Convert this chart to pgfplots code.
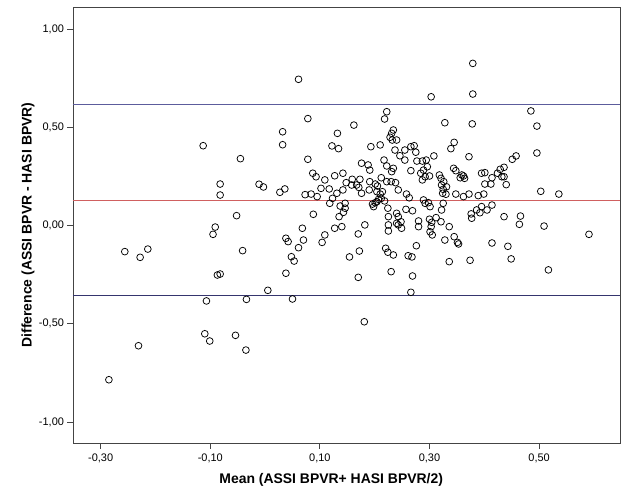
\documentclass[border=0pt]{standalone}
\usepackage{pgfplots}
\pgfplotsset{compat=1.18}
\usepackage{fontspec}
\setmainfont{Liberation Sans}
\definecolor{upblue}{HTML}{5C5C9C}
\definecolor{loblue}{HTML}{35356E}
\definecolor{meanred}{HTML}{D06060}
\definecolor{framegray}{HTML}{444444}
\begin{document}
\begin{tikzpicture}
\path[use as bounding box] (-73bp,-61bp) rectangle (556bp,443bp);
\begin{axis}[
  at={(0,0)}, anchor=south west,
  scale only axis, width=547bp, height=436bp,
  xmin=-0.3505, xmax=0.6476, ymin=-1.107, ymax=1.112,
  axis line style={framegray, line width=0.8pt},
  xtick={-0.3,-0.1,0.1,0.3,0.5},
  ytick={-1,-0.5,0,0.5,1},
  tick align=outside, tick pos=left,
  major tick length=5.5bp,
  tick style={framegray, line width=0.8pt},
  /pgf/number format/assume math mode=true,
  /pgf/number format/.cd, fixed, fixed zerofill, precision=2, use comma,
  /pgfplots/.cd,
  ticklabel style={font=\fontsize{11}{13}\selectfont},
  xticklabel style={yshift=-1.5bp},
  every axis x label/.style={at={(axis description cs:0.472,0)}, yshift=-37bp, anchor=center},
  every axis y label/.style={at={(axis description cs:0,0.5)}, xshift=-45bp, rotate=90, anchor=center},
  label style={font=\bfseries\fontsize{14}{16}\selectfont},
  xlabel={Mean (ASSI BPVR+ HASI BPVR/2)},
  ylabel={Difference (ASSI BPVR - HASI BPVR)},
]
\addplot[upblue, line width=0.8pt, forget plot] coordinates {(-0.3505,0.617) (0.6476,0.617)};
\addplot[meanred, line width=0.8pt, forget plot] coordinates {(-0.3505,0.128) (0.6476,0.128)};
\addplot[loblue, line width=0.8pt, forget plot] coordinates {(-0.3505,-0.357) (0.6476,-0.357)};
\addplot[only marks, mark=o, mark size=3.4pt, mark options={black, line width=0.75pt}] table {
x y
-0.113 0.406
-0.256 -0.133
-0.228 -0.162
-0.214 -0.120
-0.107 -0.384
-0.110 -0.551
-0.101 -0.588
-0.231 -0.612
-0.285 -0.785
-0.091 -0.008
-0.095 -0.045
-0.087 -0.252
-0.082 -0.247
-0.082 0.211
-0.082 0.155
-0.052 0.050
-0.045 0.340
-0.041 -0.128
-0.054 -0.559
-0.035 -0.634
-0.034 -0.376
0.061 0.744
0.078 0.544
0.032 0.477
0.032 0.411
0.132 0.469
0.122 0.405
0.134 0.391
0.078 0.337
0.087 0.266
0.093 0.248
0.109 0.232
0.127 0.253
0.142 0.266
-0.011 0.210
-0.003 0.196
0.027 0.169
0.036 0.186
0.073 0.157
0.084 0.160
0.095 0.147
0.102 0.189
0.117 0.186
0.131 0.164
0.142 0.181
0.148 0.218
0.118 0.113
0.123 0.138
0.137 0.099
0.146 0.088
0.135 0.045
0.143 0.067
0.088 0.057
0.068 -0.014
0.127 -0.014
0.140 -0.006
0.038 -0.065
0.042 -0.082
0.070 -0.074
0.061 -0.113
0.048 -0.159
0.053 -0.181
0.038 -0.243
0.005 -0.330
0.050 -0.374
0.109 -0.048
0.104 -0.086
0.154 -0.160
0.379 0.825
0.303 0.655
0.379 0.669
0.222 0.579
0.218 0.542
0.162 0.511
0.328 0.523
0.378 0.517
0.234 0.486
0.231 0.469
0.228 0.449
0.232 0.435
0.240 0.435
0.193 0.401
0.210 0.410
0.237 0.384
0.246 0.355
0.255 0.333
0.255 0.384
0.266 0.401
0.272 0.406
0.275 0.373
0.345 0.423
0.339 0.391
0.308 0.354
0.372 0.350
0.217 0.333
0.222 0.303
0.234 0.291
0.231 0.274
0.176 0.317
0.188 0.308
0.191 0.282
0.277 0.328
0.287 0.328
0.294 0.333
0.296 0.299
0.289 0.282
0.284 0.266
0.287 0.232
0.292 0.248
0.266 0.279
0.300 0.252
0.318 0.257
0.321 0.240
0.344 0.291
0.348 0.279
0.359 0.257
0.362 0.252
0.364 0.240
0.356 0.243
0.212 0.243
0.222 0.223
0.230 0.223
0.238 0.218
0.159 0.235
0.173 0.235
0.167 0.206
0.158 0.206
0.171 0.194
0.176 0.164
0.191 0.223
0.190 0.181
0.201 0.211
0.205 0.201
0.204 0.172
0.210 0.160
0.214 0.172
0.212 0.138
0.243 0.181
0.258 0.160
0.263 0.141
0.322 0.206
0.325 0.184
0.324 0.164
0.330 0.159
0.331 0.197
0.326 0.223
0.348 0.160
0.362 0.147
0.372 0.160
0.389 0.152
0.146 0.113
0.196 0.109
0.201 0.116
0.204 0.121
0.198 0.096
0.207 0.133
0.218 0.125
0.289 0.130
0.298 0.116
0.301 0.096
0.292 0.113
0.325 0.113
0.322 0.079
0.224 0.088
0.225 0.045
0.240 0.062
0.243 0.045
0.240 0.011
0.248 0.019
0.257 0.082
0.269 0.075
0.280 0.023
0.300 0.032
0.304 0.016
0.312 0.040
0.321 0.019
0.377 0.037
0.376 0.059
0.386 0.079
0.182 0.003
0.170 -0.043
0.225 0.003
0.225 -0.028
0.243 0.003
0.249 -0.014
0.280 -0.006
0.303 -0.006
0.301 -0.032
0.305 -0.048
0.336 -0.006
0.345 -0.057
0.351 -0.086
0.353 -0.094
0.328 -0.074
0.172 -0.130
0.220 -0.116
0.224 -0.136
0.234 -0.150
0.261 -0.154
0.268 -0.160
0.276 -0.103
0.336 -0.184
0.374 -0.177
0.170 -0.264
0.230 -0.235
0.269 -0.257
0.266 -0.340
0.181 -0.490
0.485 0.583
0.496 0.506
0.496 0.369
0.451 0.337
0.458 0.354
0.436 0.296
0.429 0.286
0.424 0.266
0.432 0.248
0.436 0.248
0.414 0.243
0.401 0.269
0.395 0.266
0.401 0.211
0.412 0.211
0.440 0.208
0.399 0.160
0.503 0.174
0.536 0.160
0.395 0.096
0.405 0.079
0.414 0.104
0.392 0.065
0.436 0.045
0.466 0.048
0.464 0.006
0.509 -0.003
0.591 -0.045
0.414 -0.089
0.443 -0.106
0.449 -0.170
0.517 -0.226
};
\end{axis}
\end{tikzpicture}
\end{document}
